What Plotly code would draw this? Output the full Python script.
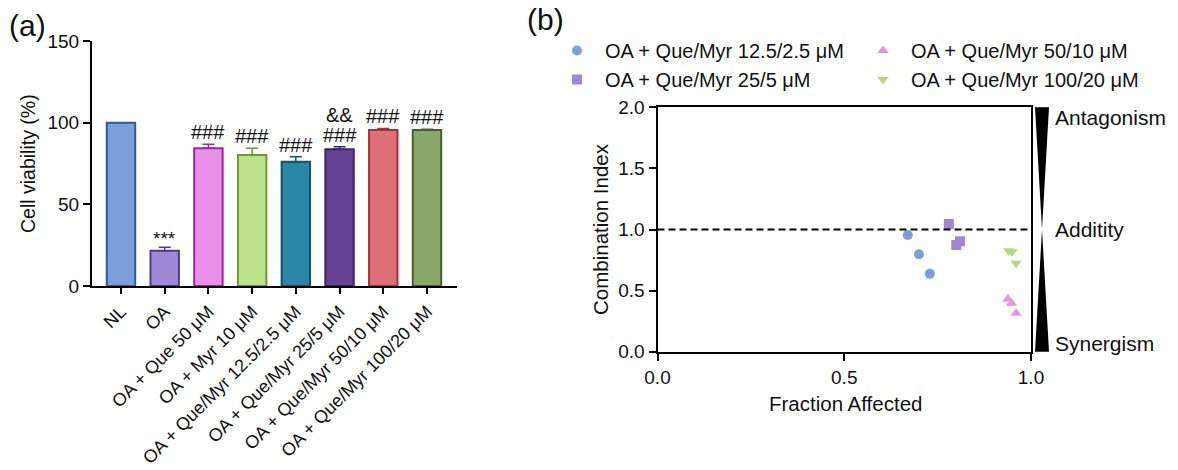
import plotly.graph_objects as go

# ---------------- Panel (a) data ----------------
groups = ["NL", "OA", "OA + Que 50 μM", "OA + Myr 10 μM", "OA + Que/Myr 12.5/2.5 μM",
          "OA + Que/Myr 25/5 μM", "OA + Que/Myr 50/10 μM", "OA + Que/Myr 100/20 μM"]
viability = [100.0, 21.6, 84.3, 80.2, 76.1, 83.7, 95.5, 95.5]
viability_err = [0.0, 2.1, 2.5, 4.1, 3.1, 1.6, 1.0, 0.4]
sig_labels = ["", "***", "###", "###", "###", "###", "###", "###"]
sig_labels2 = ["", "", "", "", "", "&&", "", ""]
bar_fill = ["#7b9fd6", "#9f88d4", "#ea90ea", "#bde28a", "#2a87a8", "#664194", "#e07077", "#88a769"]
bar_edge = ["#2c5c9c", "#4d3b9a", "#9a2a9a", "#6b9b33", "#18506a", "#3b2468", "#a8303a", "#46602e"]

# ---------------- Panel (b) data ----------------
series_names = ["OA + Que/Myr 12.5/2.5 μM", "OA + Que/Myr 25/5 μM",
                "OA + Que/Myr 50/10 μM", "OA + Que/Myr 100/20 μM"]
fa_125 = [0.670, 0.700, 0.729]
ci_125 = [0.955, 0.797, 0.638]
fa_25 = [0.780, 0.800, 0.810]
ci_25 = [1.045, 0.873, 0.903]
fa_50 = [0.938, 0.948, 0.960]
ci_50 = [0.431, 0.396, 0.314]
fa_100 = [0.940, 0.949, 0.960]
ci_100 = [0.827, 0.818, 0.723]
series_fa = [fa_125, fa_25, fa_50, fa_100]
series_ci = [ci_125, ci_25, ci_50, ci_100]
series_symbol = ["circle", "square", "triangle-up", "triangle-down"]
series_color = ["#7a9fd8", "#a087d6", "#ec92e6", "#b5da7e"]
series_legend = ["legend", "legend", "legend2", "legend2"]
effect_labels = ["Antagonism", "Additity", "Synergism"]
effect_levels = [1.92, 1.0, 0.07]
additivity_line = 1.0

FONT = "Arial, 'Liberation Sans', sans-serif"
W, H = 1178, 470

fig = go.Figure()

for i, g in enumerate(groups):
    fig.add_trace(go.Bar(
        x=[g], y=[viability[i]], width=0.65,
        marker=dict(color=bar_fill[i], line=dict(color=bar_edge[i], width=2)),
        error_y=dict(type="data", symmetric=False, array=[viability_err[i]],
                     arrayminus=[0], color=bar_edge[i], thickness=1.5, width=6,
                     visible=viability_err[i] > 0),
        xaxis="x", yaxis="y", showlegend=False,
    ))

for k in range(4):
    fig.add_trace(go.Scatter(
        x=series_fa[k], y=series_ci[k], mode="markers", name=series_names[k],
        marker=dict(symbol=series_symbol[k], color=series_color[k], size=10, line=dict(width=0)),
        xaxis="x2", yaxis="y2", legend=series_legend[k],
    ))

annotations = []
for i, g in enumerate(groups):
    top = viability[i] + viability_err[i]
    if sig_labels[i]:
        star = sig_labels[i] == "***"
        annotations.append(dict(x=g, y=top, xref="x", yref="y", text=sig_labels[i],
                                showarrow=False, yanchor="bottom",
                                yshift=-4 if star else -1,
                                font=dict(size=19 if star else 20, color="#111", family=FONT)))
    if sig_labels2[i]:
        annotations.append(dict(x=g, y=top, xref="x", yref="y", text=sig_labels2[i],
                                showarrow=False, yanchor="bottom", yshift=19,
                                font=dict(size=20, color="#111", family=FONT)))

# panel titles / labels
annotations += [
    dict(x=27 / W, y=1 - 26 / H, xref="paper", yref="paper", text="(a)", showarrow=False,
         font=dict(size=30, color="#111", family=FONT), xanchor="center", yanchor="middle"),
    dict(x=545 / W, y=1 - 20 / H, xref="paper", yref="paper", text="(b)", showarrow=False,
         font=dict(size=30, color="#111", family=FONT), xanchor="center", yanchor="middle"),
    dict(x=28 / W, y=1 - 164 / H, xref="paper", yref="paper", text="Cell viability (%)",
         showarrow=False, textangle=-90, font=dict(size=19.5, color="#111", family=FONT),
         xanchor="center", yanchor="middle"),
    dict(x=600 / W, y=1 - 229 / H, xref="paper", yref="paper", text="Combination Index",
         showarrow=False, textangle=-90, font=dict(size=20.5, color="#111", family=FONT),
         xanchor="center", yanchor="middle"),
    dict(x=845 / W, y=1 - 403 / H, xref="paper", yref="paper", text="Fraction Affected",
         showarrow=False, font=dict(size=20.5, color="#111", family=FONT),
         xanchor="center", yanchor="middle"),
]
for lab, lev in zip(effect_labels, effect_levels):
    annotations.append(dict(x=1053 / W, y=lev, xref="paper", yref="y2", text=lab,
                            showarrow=False, xanchor="left", yanchor="middle",
                            font=dict(size=21, color="#111", family=FONT)))

shapes = [
    dict(type="line", xref="x2", yref="y2", x0=0, x1=1, y0=additivity_line, y1=additivity_line,
         line=dict(color="black", width=2, dash="7px,4px")),
    dict(type="path", xref="paper", yref="y2 domain",
         path=f"M {1035/W},1 L {1049/W},1 L {1042/W},0.5 Z", fillcolor="black",
         line=dict(width=0)),
    dict(type="path", xref="paper", yref="y2 domain",
         path=f"M {1042/W},0.5 L {1049/W},0 L {1035/W},0 Z", fillcolor="black",
         line=dict(width=0)),
]

axis_common = dict(showline=True, linecolor="black", linewidth=2, ticks="outside",
                   tickcolor="black", tickwidth=2, ticklen=7, showgrid=False, zeroline=False,
                   tickfont=dict(size=19, color="#111", family=FONT))

fig.update_layout(
    width=W, height=H,
    margin=dict(l=0, r=0, t=0, b=0, autoexpand=False),
    paper_bgcolor="white", plot_bgcolor="white",
    barmode="overlay",
    font=dict(family=FONT, color="#111"),
    xaxis=dict(**{**axis_common, "tickfont": dict(size=18, color="#111", family=FONT),
                  "ticklen": 6},
               domain=[92 / W, 456.7 / W], type="category", categoryorder="array",
               categoryarray=groups, range=[-0.663, 7.68], tickangle=-45, anchor="y"),
    yaxis=dict(**axis_common, domain=[1 - 286 / H, 1 - 41 / H], range=[0, 150],
               tickvals=[0, 50, 100, 150], anchor="x"),
    xaxis2=dict(**axis_common, domain=[657.5 / W, 1031 / W], range=[0, 1],
                tickvals=[0, 0.5, 1.0], tickformat=".1f", mirror=True, anchor="y2"),
    yaxis2=dict(**axis_common, domain=[1 - 351.7 / H, 1 - 107.3 / H], range=[0, 2],
                tickvals=[0, 0.5, 1.0, 1.5, 2.0], tickformat=".1f", mirror=True, anchor="x2"),
    legend=dict(x=549 / W, y=1 - 31 / H, xanchor="left", yanchor="top",
                bgcolor="rgba(0,0,0,0)", font=dict(size=20, color="#111", family=FONT),
                itemwidth=46, tracegroupgap=0),
    legend2=dict(x=855 / W, y=1 - 31 / H, xanchor="left", yanchor="top",
                 bgcolor="rgba(0,0,0,0)", font=dict(size=20, color="#111", family=FONT),
                 itemwidth=46, tracegroupgap=0),
    annotations=annotations,
    shapes=shapes,
)

fig.write_html("out.html", config={"displayModeBar": False},
               post_script="document.body.style.margin='0';")
